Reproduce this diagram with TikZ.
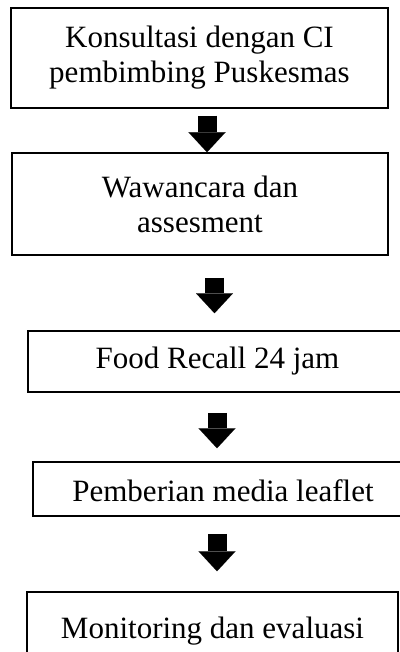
\documentclass[tikz,border=0pt]{standalone}
\usepackage{fontspec}
\setmainfont{Liberation Serif}
\usetikzlibrary{arrows.meta}

\tikzset{
 procbox/.style={draw,line width=1.5pt,inner sep=0pt,align=center,
  font=\fontsize{31}{35}\selectfont},
 onebox/.style={procbox,text height=21pt,text depth=7pt},
 fatarrow/.style={line width=19pt,
  -{Triangle[width=37pt,length=20pt,line width=0.01pt]}}
}

\begin{document}
\begin{tikzpicture}[x=1pt,y=-1pt]
 \useasboundingbox (0,0) rectangle (399,652);
 % boxes
 \node[procbox,minimum width=377pt,minimum height=100pt] (konsul) at (199.5,58)
  {Konsultasi dengan CI\\pembimbing Puskesmas};
 \node[procbox,minimum width=376pt,minimum height=102pt] (wawan) at (200,204)
  {Wawancara dan\\assesment};
 \node[onebox,minimum width=379pt,minimum height=61pt] (food) at (217.5,361.5)
  {Food Recall 24 jam};
 \node[onebox,text height=31pt,minimum width=380pt,minimum height=54pt] (leaflet) at (223,489)
  {Pemberian media leaflet};
 \node[onebox,text height=31pt,minimum width=371pt,minimum height=68pt] (monev) at (212.5,626)
  {Monitoring dan evaluasi};
 % arrows
 \draw[fatarrow] ([xshift=7.5pt,yshift=-7pt]konsul.south) -- ([xshift=7pt]wawan.north);
 \draw[fatarrow] ([xshift=14.5pt,yshift=-22pt]wawan.south) -- ([xshift=-3pt,yshift=17pt]food.north);
 \draw[fatarrow] ([xshift=-0.5pt,yshift=-20pt]food.south) -- ([xshift=-6pt,yshift=13pt]leaflet.north);
 \draw[fatarrow] ([xshift=-6pt,yshift=-17pt]leaflet.south) -- ([xshift=4.5pt,yshift=20pt]monev.north);
\end{tikzpicture}
\end{document}
